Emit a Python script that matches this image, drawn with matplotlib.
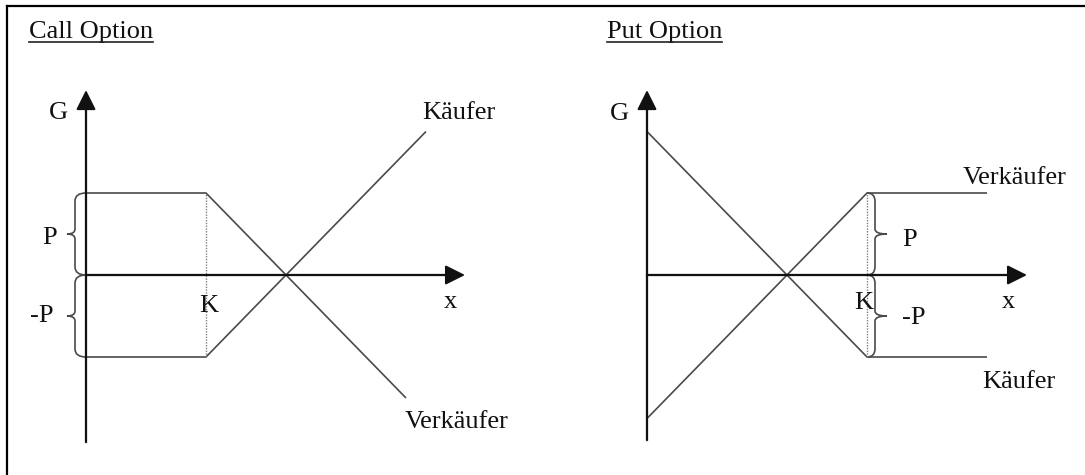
import matplotlib
matplotlib.use("Agg")
import matplotlib.pyplot as plt
from matplotlib.path import Path
from matplotlib.patches import PathPatch
from matplotlib.lines import Line2D

# Gewinn/Verlust-Diagramme fuer Call und Put (Praemie P, Basispreis K)
P = 2.0
K_CALL = 3.0
K_PUT = 5.5

call_x = [0.0, K_CALL, 8.5]
call_kaeufer = [-2.0, -2.0, 3.5]
call_verk_x = [0.0, K_CALL, 8.0]
call_verkaeufer = [2.0, 2.0, -3.0]

put_x = [0.0, K_PUT, 8.5]
put_kaeufer = [3.5, -2.0, -2.0]
put_verkaeufer = [-3.5, 2.0, 2.0]

W, H = 1085, 475
SX, SY = 40.0, 41.0          # pixel per data unit
LINE = "#4a4a4a"
FONT = "Liberation Serif"
FS = 19

plt.rcParams["font.family"] = [FONT, "DejaVu Serif"]

fig = plt.figure(figsize=(W / 100, H / 100), dpi=100)
fig.patch.set_facecolor("white")


def place_axes(origin, xlim, ylim):
    ox, oy = origin
    left = ox + xlim[0] * SX
    right = ox + xlim[1] * SX
    top = oy - ylim[1] * SY
    bottom = oy - ylim[0] * SY
    ax = fig.add_axes([left / W, (H - bottom) / H, (right - left) / W, (bottom - top) / H])
    ax.set_xlim(xlim)
    ax.set_ylim(ylim)
    ax.axis("off")
    return ax


def brace(ax, x_end, x_spine, x_tip, y0, y1, r=0.2):
    ym = (y0 + y1) / 2
    verts = [(x_end, y1), (x_spine, y1), (x_spine, y1 - r),
             (x_spine, ym + 0.12),
             (x_spine, ym), (x_tip, ym),
             (x_spine, ym), (x_spine, ym - 0.12),
             (x_spine, y0 + r),
             (x_spine, y0), (x_end, y0)]
    codes = [Path.MOVETO, Path.CURVE3, Path.CURVE3,
             Path.LINETO,
             Path.CURVE3, Path.CURVE3,
             Path.CURVE3, Path.CURVE3,
             Path.LINETO,
             Path.CURVE3, Path.CURVE3]
    ax.add_patch(PathPatch(Path(verts, codes), fill=False, lw=1.2, ec=LINE))


def axes_arrows(ax, x_tip, y_top, y_bottom):
    style = "-|>,head_length=0.6,head_width=0.3"
    props = dict(arrowstyle=style, mutation_scale=20, lw=1.5, color="#111111",
                 shrinkA=0, shrinkB=0)
    ax.annotate("", xy=(x_tip, 0), xytext=(0, 0), arrowprops=props)
    ax.annotate("", xy=(0, y_top), xytext=(0, y_bottom), arrowprops=props)
    # the shafts themselves look a little lighter than the heads
    ax.plot([0, x_tip - 0.4], [0, 0], color="#444444", lw=1.6)
    ax.plot([0, 0], [y_bottom, y_top - 0.4], color="#444444", lw=1.6)


def label(ax, x, y, s, ha="center", va="center"):
    return ax.text(x, y, s, ha=ha, va=va, fontsize=FS, color="#111111")


# ---------------- Call Option ----------------
ax1 = place_axes((86, 275), (-2.0, 11.2), (-4.8, 6.5))
axes_arrows(ax1, 9.475, 4.51, -4.07)
ax1.plot(call_x, call_kaeufer, color=LINE, lw=1.2, solid_capstyle="butt")
ax1.plot(call_verk_x, call_verkaeufer, color=LINE, lw=1.2, solid_capstyle="butt")
ax1.plot([K_CALL, K_CALL], [-P, P], color="#808080", lw=1.0, ls=(0, (1, 1)))
brace(ax1, 0.0, -0.275, -0.475, 0.0, P)
brace(ax1, 0.0, -0.275, -0.475, -P, 0.0)
label(ax1, -0.7, 3.95, "G")
label(ax1, 8.4, 3.95, "Käufer", ha="left")
label(ax1, 7.98, -3.59, "Verkäufer", ha="left")
label(ax1, -0.9, 0.9, "P")
label(ax1, -1.1, -1.0, "-P")
label(ax1, K_CALL + 0.08, -0.76, "K")
label(ax1, 9.1, -0.66, "x")
t1 = ax1.text(-1.425, 5.78, "Call Option", ha="left", va="baseline", fontsize=FS, color="#111111")

# ---------------- Put Option ----------------
ax2 = place_axes((647, 275), (-2.2, 10.9), (-4.8, 6.5))
axes_arrows(ax2, 9.5, 4.51, -4.02)
ax2.plot(put_x, put_kaeufer, color=LINE, lw=1.2, solid_capstyle="butt")
ax2.plot(put_x, put_verkaeufer, color=LINE, lw=1.2, solid_capstyle="butt")
ax2.plot([K_PUT, K_PUT], [-P, P], color="#808080", lw=1.0, ls=(0, (1, 1)))
brace(ax2, K_PUT, K_PUT + 0.2, K_PUT + 0.5, 0.0, P)
brace(ax2, K_PUT, K_PUT + 0.2, K_PUT + 0.5, -P, 0.0)
label(ax2, -0.7, 3.93, "G")
label(ax2, 7.9, 2.37, "Verkäufer", ha="left")
label(ax2, 8.375, -2.61, "Käufer", ha="left")
label(ax2, 6.575, 0.85, "P")
label(ax2, 6.675, -1.05, "-P")
label(ax2, K_PUT - 0.075, -0.68, "K")
label(ax2, 9.03, -0.66, "x")
t2 = ax2.text(-1.0, 5.78, "Put Option", ha="left", va="baseline", fontsize=FS, color="#111111")

# underline the titles
fig.canvas.draw()
renderer = fig.canvas.get_renderer()
for t in (t1, t2):
    bb = t.get_window_extent(renderer)
    y_line = (H - 42) / H
    fig.add_artist(Line2D([bb.x0 / W, bb.x1 / W], [y_line, y_line],
                          transform=fig.transFigure, color="#222222", lw=1.2))

# frame (left and top edge visible)
fig.add_artist(Line2D([7 / W, 1.0], [1 - 6 / H, 1 - 6 / H], transform=fig.transFigure,
                      color="black", lw=1.6))
fig.add_artist(Line2D([7 / W, 7 / W], [0.0, 1 - 6 / H], transform=fig.transFigure,
                      color="black", lw=1.6))

fig.savefig("out.png", dpi=100, facecolor="white")
